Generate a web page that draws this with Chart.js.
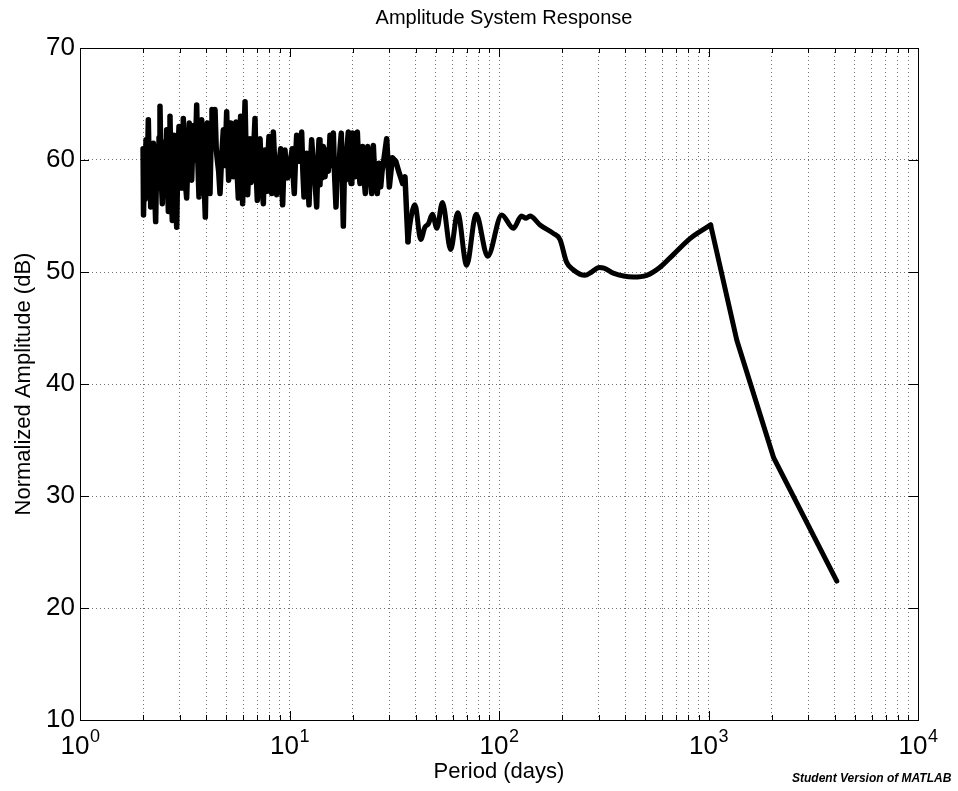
<!DOCTYPE html>
<html>
<head>
<meta charset="utf-8">
<title>Amplitude System Response</title>
<script src="https://cdn.jsdelivr.net/npm/chart.js@4.4.0/dist/chart.umd.min.js"></script>
<style>
  html, body { margin: 0; padding: 0; background: #fff; }
  #wrap { position: relative; width: 958px; height: 791px; }
  #note { position: absolute; left: 792px; top: 771px; font: italic bold 12px "Liberation Sans", Arial, sans-serif; color: #000; white-space: nowrap; }
</style>
</head>
<body>
<div id="wrap">
  <canvas id="chart" width="958" height="791"></canvas>
  <div id="note">Student Version of MATLAB</div>
</div>
<script>
var chartTitle = "Amplitude System Response";
var xLabel = "Period (days)";
var yLabel = "Normalized Amplitude (dB)";

// short periods: dense, noisy part of the response (days / dB)
var noisyPeriods = [
  2.000, 2.010, 2.030, 2.045, 2.066, 2.090, 2.119, 2.145, 2.160, 2.175,
  2.200, 2.220, 2.239, 2.265, 2.297, 2.320, 2.339, 2.360, 2.385, 2.409,
  2.440, 2.472, 2.500, 2.527, 2.560, 2.593, 2.615, 2.641, 2.665, 2.689,
  2.720, 2.758, 2.785, 2.810, 2.850, 2.894, 2.930, 2.969, 3.005, 3.045,
  3.080, 3.113, 3.170, 3.229, 3.280, 3.325, 3.370, 3.412, 3.455, 3.500,
  3.550, 3.605, 3.650, 3.698, 3.750, 3.808, 3.879, 3.920, 3.965, 4.010,
  4.053, 4.110, 4.174, 4.220, 4.266, 4.340, 4.410, 4.470, 4.524, 4.590,
  4.659, 4.750, 4.833, 4.920, 5.013, 5.070, 5.124, 5.190, 5.256, 5.320,
  5.393, 5.470, 5.553, 5.620, 5.697, 5.770, 5.845, 5.910, 5.975, 6.050,
  6.134, 6.220, 6.316, 6.400, 6.479, 6.560, 6.648, 6.745, 6.845, 6.930,
  7.022, 7.130, 7.232, 7.370, 7.502, 7.570, 7.640, 7.720, 7.810, 7.900,
  7.983, 8.100, 8.221, 8.300, 8.373, 8.530, 8.685, 8.800, 8.911, 9.076,
  9.180, 9.276, 9.400, 9.517, 9.650, 9.800, 10.05, 10.31, 10.42, 10.54,
  10.68, 10.82, 10.96, 11.10, 11.26, 11.43, 11.58, 11.73, 11.90, 12.08,
  12.24, 12.39, 12.58, 12.76, 12.95, 13.14, 13.30, 13.48, 13.65, 13.83,
  13.98, 14.14, 14.30, 14.51, 14.78, 15.05, 15.33, 15.61, 15.90, 16.19,
  16.43, 16.67, 16.92, 17.17, 17.42, 17.67, 17.87, 18.07, 18.30, 18.54,
  18.80, 19.09, 19.38, 19.66, 19.84, 20.02, 20.28, 20.54, 20.80, 21.08,
  21.40, 21.70, 22.02, 22.35, 22.68, 23.01, 23.31, 23.61, 23.92, 24.23,
  24.45, 24.68, 24.90, 25.13, 25.45, 25.78, 26.02, 26.26, 26.50, 26.74,
  27.00, 27.24, 27.65, 28.05, 29.10, 29.96, 30.97, 32.13, 33.45, 34.69,
  35.59, 36.25, 36.78
];
var noisyDb = [
  61.0, 55.1, 60.5, 56.5, 61.8, 57.5, 63.6, 58.0, 61.0, 55.8,
  60.5, 57.5, 61.5, 58.0, 54.5, 59.5, 61.2, 57.5, 62.0, 64.8,
  58.5, 56.1, 60.0, 61.6, 58.0, 62.7, 58.5, 55.4, 60.5, 63.9,
  58.0, 54.6, 59.5, 62.2, 57.5, 54.0, 60.0, 63.0, 57.5, 60.0,
  57.5, 63.7, 58.5, 56.6, 60.5, 63.3, 59.0, 58.2, 61.5, 63.1,
  60.0, 64.9, 60.0, 56.7, 60.5, 63.6, 60.3, 57.5, 54.9, 60.0,
  63.3, 58.5, 57.0, 61.5, 64.5, 61.5, 64.5, 61.0, 60.0, 59.0,
  57.0, 60.5, 62.7, 59.5, 64.3, 60.5, 58.2, 61.0, 63.3, 59.5,
  58.5, 61.5, 63.4, 59.0, 56.6, 60.5, 63.9, 59.5, 56.1, 61.0,
  65.2, 59.5, 56.9, 60.0, 61.9, 58.0, 59.1, 61.0, 63.7, 59.0,
  56.4, 60.0, 61.9, 58.0, 56.1, 59.5, 60.9, 58.5, 57.2, 60.5,
  62.1, 59.0, 57.0, 60.0, 62.5, 59.0, 56.9, 58.5, 59.7, 61.0,
  58.0, 56.0, 59.5, 60.9, 59.0, 58.4, 59.7, 61.0, 58.5, 57.0,
  60.0, 62.2, 60.0, 59.9, 61.0, 62.5, 59.0, 56.7, 59.5, 60.6,
  58.0, 56.0, 59.5, 61.8, 60.0, 59.4, 57.5, 55.8, 59.5, 61.8,
  57.8, 60.5, 58.4, 61.2, 58.5, 60.9, 59.0, 62.2, 59.5, 62.4,
  58.5, 55.8, 60.0, 58.5, 61.0, 62.4, 58.0, 54.1, 59.5, 58.2,
  61.0, 62.5, 59.5, 57.9, 60.5, 62.4, 59.0, 58.5, 61.0, 62.5,
  59.5, 57.9, 60.0, 61.2, 58.5, 57.0, 59.5, 61.2, 58.5, 59.7,
  58.0, 57.0, 60.0, 61.3, 59.0, 57.3, 59.0, 57.0, 59.0, 59.7,
  58.0, 57.6, 59.0, 59.7, 61.9, 57.6, 60.2, 59.9, 58.8, 57.9,
  58.5, 55.2, 52.7
];

// longer periods: smooth wiggles up to the peak near 1000 days
var smoothPeriods = [
  36.78, 37.6, 39.7, 42.3, 44.3, 46.0, 48.1, 50.5, 53.7, 58.8,
  63.5, 70.1, 77.7, 88.3, 103, 117, 128, 134.6, 140.6, 157,
  181.7, 195.5, 210, 226, 257, 277, 301, 317, 351, 438,
  507, 585, 683, 819, 1024
];
var smoothDb = [
  52.7, 54.3, 56.0, 52.9, 54.0, 54.3, 55.15, 53.9, 56.2, 52.0,
  55.3, 50.6, 55.15, 51.4, 55.1, 53.9, 55.0, 54.8, 55.0, 54.2,
  53.45, 52.9, 50.9, 50.2, 49.7, 50.0, 50.4, 50.35, 49.9, 49.55,
  49.7, 50.4, 51.6, 53.0, 54.2
];

// straight tail after the peak
var tailPeriods = [1024, 1365, 2048, 4096];
var tailDb = [54.2, 43.9, 33.4, 22.4];

var xDecades = [1, 10, 100, 1000, 10000];
var xExponents = ['0', '1', '2', '3', '4'];
var xMinorSteps = [2, 3, 4, 5, 6, 7, 8, 9];
var yTicks = [10, 20, 30, 40, 50, 60, 70];

var fontName = '"Liberation Sans", Arial, Helvetica, sans-serif';

var xTickValues = [];
for (var d = 0; d < xDecades.length - 1; d++) {
  xTickValues.push(xDecades[d]);
  for (var m = 0; m < xMinorSteps.length; m++) {
    xTickValues.push(xDecades[d] * xMinorSteps[m]);
  }
}
xTickValues.push(xDecades[xDecades.length - 1]);

function toPoints(xs, ys){
  var pts = [];
  for (var i = 0; i < xs.length; i++) pts.push({x: xs[i], y: ys[i]});
  return pts;
}

function lineSet(xs, ys, smooth, width){
  return {
    data: toPoints(xs, ys),
    borderColor: '#000',
    borderWidth: width,
    pointRadius: 0,
    cubicInterpolationMode: smooth ? 'monotone' : 'default',
    tension: 0,
    borderJoinStyle: 'round',
    borderCapStyle: 'round'
  };
}

// box, inward ticks, decade exponents and title, the way matlab draws them
var matlabAxes = {
  id: 'matlabAxes',
  afterDraw: function(chart){
    var ctx = chart.ctx;
    var a = chart.chartArea;
    var xs = chart.scales.x;
    var ys = chart.scales.y;
    ctx.save();
    ctx.strokeStyle = '#000';
    ctx.lineWidth = 1;
    ctx.beginPath();
    xs.ticks.forEach(function(t){
      var px = Math.round(xs.getPixelForValue(t.value)) + 0.5;
      var len = xDecades.indexOf(t.value) >= 0 ? 9 : 5;
      ctx.moveTo(px, a.bottom); ctx.lineTo(px, a.bottom - len);
      ctx.moveTo(px, a.top); ctx.lineTo(px, a.top + len);
    });
    ys.ticks.forEach(function(t){
      var py = Math.round(ys.getPixelForValue(t.value)) + 0.5;
      ctx.moveTo(a.left, py); ctx.lineTo(a.left + 9, py);
      ctx.moveTo(a.right, py); ctx.lineTo(a.right - 9, py);
    });
    ctx.stroke();
    ctx.strokeRect(Math.round(a.left) + 0.5, Math.round(a.top) + 0.5,
                   Math.round(a.right - a.left), Math.round(a.bottom - a.top));

    ctx.fillStyle = '#000';
    ctx.font = '18px ' + fontName;
    ctx.textAlign = 'left';
    ctx.textBaseline = 'alphabetic';
    xDecades.forEach(function(v, i){
      var px = xs.getPixelForValue(v);
      ctx.fillText(xExponents[i], px + 10, a.bottom + 22);
    });

    ctx.font = '20px ' + fontName;
    ctx.textAlign = 'center';
    ctx.textBaseline = 'middle';
    ctx.fillText(chartTitle, (a.left + a.right) / 2 + 5, 18);
    ctx.restore();
  }
};

var div_chart = document.getElementById('chart');

var line_chart = new Chart(div_chart, {
  type: 'line',
  data: {
    datasets: [
      lineSet(noisyPeriods, noisyDb, false, 5.5),
      lineSet(smoothPeriods, smoothDb, true, 5),
      lineSet(tailPeriods, tailDb, false, 5)
    ]
  },
  options: {
    responsive: false,
    animation: false,
    devicePixelRatio: 1,
    layout: { padding: { left: 0, right: 40, top: 48, bottom: 0 } },
    plugins: {
      legend: { display: false },
      tooltip: { enabled: false },
      title: { display: false }
    },
    scales: {
      x: {
        type: 'logarithmic',
        min: 1,
        max: 10000,
        afterBuildTicks: function(axis){
          axis.ticks = xTickValues.map(function(v){ return {value: v}; });
        },
        afterFit: function(scale){ scale.height = 71; },
        ticks: {
          autoSkip: false,
          maxRotation: 0,
          minRotation: 0,
          padding: 11,
          labelOffset: -5,
          color: '#000',
          font: { family: fontName, size: 26 },
          callback: function(value){
            return xDecades.indexOf(value) >= 0 ? '10' : '';
          }
        },
        grid: { color: 'rgba(0,0,0,0.55)', lineWidth: 1, drawTicks: false },
        border: { display: false, dash: [1, 3] },
        title: {
          display: true,
          text: xLabel,
          color: '#000',
          font: { family: fontName, size: 22 },
          padding: { top: 0, bottom: 6 }
        }
      },
      y: {
        min: 10,
        max: 70,
        afterBuildTicks: function(axis){
          axis.ticks = yTicks.map(function(v){ return {value: v}; });
        },
        afterFit: function(scale){ scale.width = 80; },
        ticks: {
          padding: 5,
          color: '#000',
          font: { family: fontName, size: 26 }
        },
        grid: { color: 'rgba(0,0,0,0.55)', lineWidth: 1, drawTicks: false },
        border: { display: false, dash: [1, 3] },
        title: {
          display: true,
          text: yLabel,
          color: '#000',
          font: { family: fontName, size: 22 },
          padding: { top: 11, bottom: 0 }
        }
      }
    }
  },
  plugins: [matlabAxes]
});
</script>
</body>
</html>
